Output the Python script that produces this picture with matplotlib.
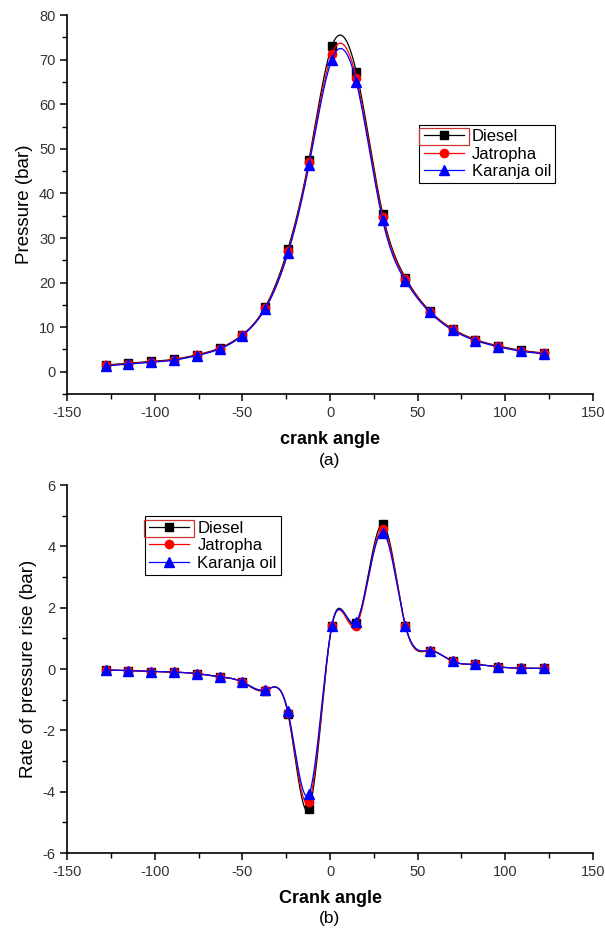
import numpy as np
import matplotlib
matplotlib.use("Agg")
import matplotlib.pyplot as plt
from matplotlib.ticker import MultipleLocator
from matplotlib.patches import Rectangle

plt.rcParams['font.family'] = ['Liberation Sans', 'DejaVu Sans']
plt.rcParams['axes.unicode_minus'] = False

crank = [-128, -115, -102, -89, -76, -63, -50, -37, -24, -12, 1, 15, 30, 43, 57, 70, 83, 96, 109, 122]

p_diesel = [1.5, 1.9, 2.3, 2.8, 3.8, 5.3, 8.3, 14.5, 27.6, 47.6, 73.0, 67.3, 35.5, 21.1, 13.6, 9.6, 7.2, 5.8, 4.8, 4.2]
p_jatropha = [1.4, 1.8, 2.2, 2.7, 3.7, 5.2, 8.2, 14.3, 27.0, 47.0, 71.2, 66.0, 34.8, 20.8, 13.5, 9.5, 7.1, 5.7, 4.7, 4.1]
p_karanja = [1.3, 1.7, 2.1, 2.6, 3.6, 5.1, 8.1, 14.1, 26.6, 46.3, 70.0, 65.0, 34.0, 20.4, 13.3, 9.3, 7.0, 5.6, 4.6, 4.0]

r_diesel = [-0.03, -0.05, -0.08, -0.10, -0.15, -0.25, -0.43, -0.70, -1.45, -4.55, 1.40, 1.50, 4.72, 1.42, 0.60, 0.25, 0.15, 0.07, 0.03, 0.02]
r_jatropha = [-0.03, -0.05, -0.08, -0.10, -0.15, -0.25, -0.42, -0.69, -1.42, -4.32, 1.40, 1.42, 4.58, 1.42, 0.60, 0.25, 0.15, 0.07, 0.03, 0.02]
r_karanja = [-0.03, -0.05, -0.08, -0.10, -0.15, -0.25, -0.42, -0.68, -1.38, -4.08, 1.40, 1.55, 4.45, 1.42, 0.60, 0.25, 0.15, 0.07, 0.03, 0.02]

labels = ['Diesel', 'Jatropha', 'Karanja oil']
colors = ['#000000', '#ff0000', '#0000ff']
markers = ['s', 'o', '^']
msizes = [5.8, 6.0, 6.8]


def natural_spline(x, y, xs):
    x = np.asarray(x, float)
    y = np.asarray(y, float)
    n = len(x)
    h = np.diff(x)
    A = np.zeros((n, n))
    b = np.zeros(n)
    A[0, 0] = 1
    A[-1, -1] = 1
    for i in range(1, n - 1):
        A[i, i - 1] = h[i - 1]
        A[i, i] = 2 * (h[i - 1] + h[i])
        A[i, i + 1] = h[i]
        b[i] = 6 * ((y[i + 1] - y[i]) / h[i] - (y[i] - y[i - 1]) / h[i - 1])
    M = np.linalg.solve(A, b)
    idx = np.clip(np.searchsorted(x, xs) - 1, 0, n - 2)
    x0 = x[idx]; x1 = x[idx + 1]; hh = x1 - x0
    t0 = x1 - xs; t1 = xs - x0
    return (M[idx] * t0 ** 3 / (6 * hh) + M[idx + 1] * t1 ** 3 / (6 * hh)
            + (y[idx] / hh - M[idx] * hh / 6) * t0
            + (y[idx + 1] / hh - M[idx + 1] * hh / 6) * t1)


fig = plt.figure(figsize=(6.05, 9.33), dpi=100)
ax1 = fig.add_axes([0.111, 0.5777, 0.869, 0.406])
ax2 = fig.add_axes([0.111, 0.0857, 0.869, 0.3944])

xs = np.linspace(min(crank), max(crank), 1200)


def draw(ax, series):
    hs = []
    for ys, lab, c, m, ms in zip(series, labels, colors, markers, msizes):
        ax.plot(xs, natural_spline(crank, ys, xs), color=c, lw=0.9)
        ax.plot(crank, ys, linestyle='none', marker=m, color=c, ms=ms)
        h, = ax.plot([], [], color=c, lw=0.9, marker=m, ms=ms)
        hs.append(h)
    return hs


def style(ax, ymin, ymax, ymaj, ymin_step):
    ax.set_xlim(-150, 150)
    ax.set_ylim(ymin, ymax)
    ax.xaxis.set_major_locator(MultipleLocator(50))
    ax.xaxis.set_minor_locator(MultipleLocator(25))
    ax.yaxis.set_major_locator(MultipleLocator(ymaj))
    ax.yaxis.set_minor_locator(MultipleLocator(ymin_step))
    for s in ['top', 'right']:
        ax.spines[s].set_visible(False)
    for s in ['left', 'bottom']:
        ax.spines[s].set_linewidth(1.2)
    ax.tick_params(which='major', direction='out', length=5, width=1.1, labelsize=10.5, labelcolor='#333333')
    ax.tick_params(which='minor', direction='out', length=3.5, width=1.0)


legkw = dict(fontsize=12, frameon=True, fancybox=False, edgecolor='black', framealpha=1,
             handlelength=2.4, labelspacing=0.15, borderpad=0.25, handletextpad=0.5,
             borderaxespad=0)

h1 = draw(ax1, [p_diesel, p_jatropha, p_karanja])
style(ax1, -5, 80, 10, 5)
ax1.set_yticks(np.arange(0, 81, 10))
ax1.set_ylabel('Pressure (bar)', fontsize=13.5)
ax1.set_xlabel('crank angle', fontsize=13, fontweight='bold', labelpad=8)
leg1 = ax1.legend(h1, labels, loc='upper left', bbox_to_anchor=(0.67, 0.71), **legkw)
leg1.get_frame().set_linewidth(0.8)

h2 = draw(ax2, [r_diesel, r_jatropha, r_karanja])
style(ax2, -6, 6, 2, 1)
ax2.set_ylabel('Rate of pressure rise (bar)', fontsize=13.5)
ax2.set_xlabel('Crank angle', fontsize=13, fontweight='bold', labelpad=8)
leg2 = ax2.legend(h2, labels, loc='upper left', bbox_to_anchor=(0.148, 0.915), **legkw)
leg2.get_frame().set_linewidth(0.8)

fig.text(0.545, 1 - 460 / 933, '(a)', fontsize=12.5, ha='center', va='center')
fig.text(0.545, 1 - 918 / 933, '(b)', fontsize=12.5, ha='center', va='center')

# red selection box around the Diesel legend handle
fig.canvas.draw()
rend = fig.canvas.get_renderer()
for leg in (leg1, leg2):
    hl = leg.legend_handles[0]
    txt = leg.get_texts()[0]
    bb_h = hl.get_window_extent(rend)
    bb_t = txt.get_window_extent(rend)
    x0 = bb_h.x0 - 1
    x1 = bb_h.x1 + 1
    y0 = bb_t.y0 - 1
    y1 = bb_t.y1 + 1
    fig.patches.append(Rectangle((x0 / fig.bbox.width, y0 / fig.bbox.height),
                                 (x1 - x0) / fig.bbox.width, (y1 - y0) / fig.bbox.height,
                                 transform=fig.transFigure, fill=False, edgecolor='#cc3333', lw=0.9))

fig.savefig('out.png', dpi=100)
